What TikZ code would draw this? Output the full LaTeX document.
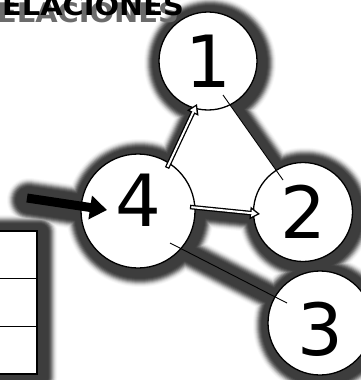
\documentclass[tikz,border=0pt]{standalone}
\usepackage{fontspec}
\setmainfont{DejaVu Sans}
\usetikzlibrary{arrows.meta,calc}
\pgfdeclarelayer{back}
\pgfsetlayers{back,main}
\tikzset{
  numnode/.style={circle, draw, fill=white, line width=1.3pt, inner sep=0pt, font=\fontsize{72}{72}\selectfont},
  thinedge/.style={line width=0.9pt},
  dblarrow/.style={line width=4.6pt, -{Triangle[length=10pt,width=12pt]},
    postaction={draw=white, line width=2pt, shorten <=1.3pt, shorten >=2.6pt, -{Triangle[length=6pt,width=7pt]}}},
  bigarrow/.style={line width=9pt, -{Triangle[length=17pt,width=23pt]}},
  titletext/.style={inner sep=0pt, anchor=base west, font=\fontsize{27}{27}\selectfont\bfseries, xscale=1.07},
  glow/.style={line join=round, line cap=round},
}
\begin{document}
\begin{tikzpicture}[x=1pt,y=-1pt]
\useasboundingbox (0,0) rectangle (360,380);

\node[titletext, text=black!58] (titleshadow) at (-3,23) {ELACIONES};
\node[titletext] (title) at (2,16) {ELACIONES};

\node[draw, fill=white, line width=2.2pt, inner sep=0pt, minimum width=60pt, minimum height=143pt] (tbl) at (7,302.5) {};
\draw[line width=1.5pt] ($(tbl.north west)!1/3!(tbl.south west)$) -- ($(tbl.north east)!1/3!(tbl.south east)$);
\draw[line width=1.5pt] ($(tbl.north west)!2/3!(tbl.south west)$) -- ($(tbl.north east)!2/3!(tbl.south east)$);

\node[numnode, minimum size=114pt] (n4) at (138,211) {\raisebox{-15pt}[0pt][0pt]{4}};
\node[numnode, minimum size=98pt] (n1) at (208,61) {1};
\node[numnode, minimum size=99pt] (n2) at (303,212) {2};
\node[numnode, minimum size=104pt] (n3) at (320,323) {\raisebox{-32pt}[0pt][0pt]{3}};

\coordinate (e41a) at ([shift={(29,-43)}]n4.center);
\coordinate (e41b) at ([shift={(-11,43)}]n1.center);
\coordinate (e42a) at ([shift={(52,-4)}]n4.center);
\coordinate (e42b) at ([shift={(-43,2)}]n2.center);
\coordinate (e12a) at ([shift={(15,34)}]n1.center);
\coordinate (e12b) at ([shift={(-20,-32)}]n2.center);
\coordinate (e43a) at ([shift={(32,32)}]n4.center);
\coordinate (e43b) at ([shift={(-33,-20)}]n3.center);
\coordinate (tail) at (27,198);
\coordinate (e4in) at ([shift={(-31,-1)}]n4.center);

\draw[thinedge] (e12a) -- (e12b);
\draw[thinedge] (e43a) -- (e43b);
\draw[dblarrow] (e41a) -- (e41b);
\draw[dblarrow] (e42a) -- (e42b);
\draw[bigarrow] (tail) -- (e4in);

\begin{pgfonlayer}{back}
\fill[white] (-30,-10) rectangle (390,390);
\foreach \r/\c in {17/3,16/8,15/15,14/25,13/37,12/49,11/60,10/68,9/74,8/76}{
  \draw[glow, draw=black!\c, fill=black!\c, line width={2*\r*1pt}]
    ($(n1)+(2,2)$) circle[radius=49] ($(n2)+(2,2)$) circle[radius=49.5]
    ($(n3)+(2,2)$) circle[radius=52] ($(n4)+(2,2)$) circle[radius=57]
    ($(e41a)+(2,2)$) -- ($(e41b)+(2,2)$) -- ($(e12a)+(2,2)$) -- ($(e12b)+(2,2)$) -- ($(e42b)+(2,2)$) -- ($(e42a)+(2,2)$) -- cycle
    ($(tbl.north west)+(2,2)$) rectangle ($(tbl.south east)+(2,2)$);
  \draw[glow, draw=black!\c, line width={2*\r*1pt}] ($(e43a)+(2,2)$) -- ($(e43b)+(2,2)$);
  \draw[glow, draw=black!\c, line width={(2*\r+10)*1pt}] ($(tail)+(2,2)$) -- ($(e4in)+(2,2)$);
}
\fill[white] (e41a) -- (e41b) -- (e12a) -- (e12b) -- (e42b) -- (e42a) -- cycle;
\end{pgfonlayer}
\end{tikzpicture}
\end{document}
